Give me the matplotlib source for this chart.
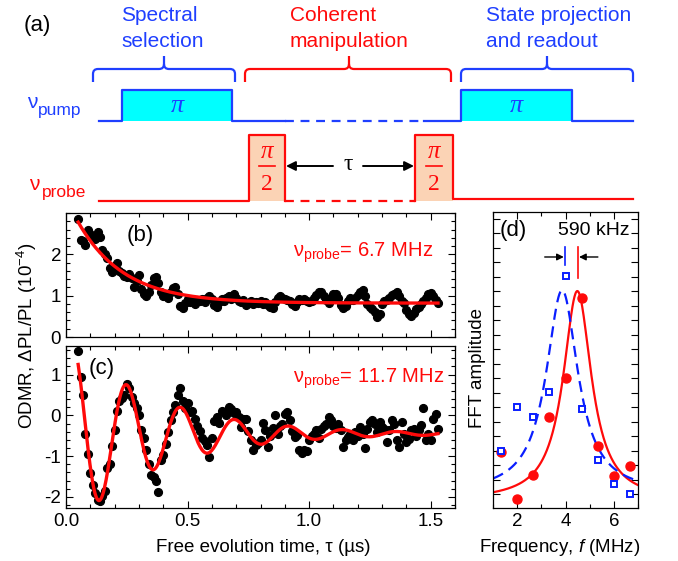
import numpy as np
import matplotlib.pyplot as plt
from matplotlib.path import Path
from matplotlib.patches import PathPatch, Rectangle

plt.rcParams['font.family'] = ['Liberation Sans', 'DejaVu Sans']
plt.rcParams['mathtext.fontset'] = 'custom'
plt.rcParams['mathtext.rm'] = 'Liberation Sans'
plt.rcParams['mathtext.it'] = 'Liberation Sans:italic'
plt.rcParams['mathtext.sf'] = 'Liberation Sans'
plt.rcParams['axes.unicode_minus'] = False

RED = '#ff0a0a'
BLUE = '#1f3fff'
SERIF = ['Liberation Serif', 'DejaVu Serif']

# ---- data ----
# sampling of the free evolution time (us)
tauStart, tauStep = 0.05, 0.01

# (b) nu_probe = 6.7 MHz
odmrB = [2.85, 2.35, 2.33, 2.22, 2.6, 2.5, 2.45, 2.38, 2.55, 2.42,
         2.1, 2.02, 1.9, 1.68, 1.58, 1.72, 1.78, 1.6, 1.55, 1.48,
         1.45, 1.52, 1.42, 1.2, 1.35, 1.5, 1.15, 1.05, 0.98, 1.08,
         1.25, 1.42, 1.45, 1.3, 1.08, 0.98, 1.02, 0.95, 1.1, 1.18,
         1.2, 1.05, 0.75, 0.7, 0.82, 0.92, 0.85, 0.88, 0.8, 0.9,
         0.88, 0.92, 0.85, 0.95, 1.0, 0.92, 0.78, 0.73, 0.85, 0.92,
         0.88, 0.95, 1.0, 0.92, 1.03, 0.95, 0.88, 0.85, 0.9, 0.78,
         0.82, 0.88, 0.8, 0.85, 0.82, 0.88, 0.8, 0.85, 0.78, 0.72,
         0.7, 0.85, 0.95, 1.0, 0.95, 0.92, 0.9, 0.88, 0.8, 0.74,
         0.85, 0.93, 0.9, 0.92, 0.88, 0.84, 0.86, 0.95, 1.02, 1.08,
         1.1, 0.98, 0.9, 0.82, 0.95, 1.04, 1.05, 0.95, 0.78, 0.7,
         0.75, 0.88, 0.95, 0.9, 0.95, 1.02, 1.08, 1.13, 1.0, 0.8,
         0.72, 0.68, 0.6, 0.48, 0.55, 0.8, 0.88, 0.9, 0.95, 1.02,
         1.05, 1.1, 0.98, 0.88, 0.82, 0.65, 0.55, 0.5, 0.58, 0.68,
         0.72, 0.8, 0.88, 0.95, 1.05, 1.07, 1.0, 0.9, 0.82]

# (c) nu_probe = 11.7 MHz
odmrC = [1.57, 0.95, 0.5, -0.45, -0.95, -1.42, -1.7, -1.9, -2.08, -2.1,
         -1.98, -1.85, -1.3, -1.2, -0.75, -0.35, 0.1, 0.35, 0.42, 0.5,
         0.78, 0.68, 0.45, 0.3, 0.18, 0.0, -0.35, -0.55, -0.85, -1.2,
         -1.45, -1.5, -1.6, -1.88, -1.1, -0.98, -0.7, -0.4, -0.12, 0.08,
         0.25, 0.5, 0.68, 0.35, 0.18, 0.3, 0.08, 0.1, -0.08, -0.25,
         -0.38, -0.55, -0.62, -0.72, -1.02, -0.55, -0.15, -0.05, -0.18, 0.1,
         0.08, 0.0, 0.2, 0.15, 0.05, 0.08, -0.05, -0.28, -0.08, -0.1,
         -0.38, -0.6, -0.85, -0.72, -0.68, -0.6, -0.18, -0.35, -0.78, -0.5,
         -0.3, 0.0, -0.45, -0.25, -0.22, 0.04, 0.08, -0.12, -0.38, -0.52,
         -0.48, -0.85, -0.92, -0.85, -0.88, -0.6, -0.5, -0.45, -0.37, -0.55,
         -0.33, -0.25, -0.2, -0.04, -0.12, -0.26, -0.3, -0.2, -0.37, -0.77,
         -0.6, -0.52, -0.45, -0.6, -0.4, -0.5, -0.28, -0.45, -0.8, -0.33,
         -0.16, -0.12, -0.22, -0.4, -0.16, -0.28, -0.33, -0.65, -0.37, -0.12,
         -0.2, -0.6, -0.77, -0.16, -0.45, -0.65, -0.57, -0.37, -0.33, -0.5,
         -0.37, -0.24, 0.18, -0.6, -0.45, -0.6, -0.08, 0.04, -0.33]

# fit parameters
fitB = dict(offset=0.82, amp=1.96, decay=0.19)
fitC = dict(offset=-0.45, amp=2.4, t2=0.36, freq=4.5, t0=0.028)

# (d) FFT amplitudes (arb. units)
fftFreq = [1.33, 2.0, 2.67, 3.33, 4.0, 4.67, 5.33, 6.0, 6.67]
fftBlue = [0.193, 0.340, 0.306, 0.393, 0.783, 0.334, 0.161, 0.081, 0.047]
fftRed = [0.189, 0.029, 0.112, 0.306, 0.438, 0.708, 0.211, 0.107, 0.143]
lorBlue = dict(f0=3.86, width=0.80, amp=0.686, base=0.05)
lorRed = dict(f0=4.49, width=0.71, amp=0.708, base=0.025)
peakMarks = [3.96, 4.53]

# (a) pulse sequence timing (schematic units)
seqStart, seqEnd = 99, 633
pumpPulses = [(122, 232), (461, 572)]
pumpDashed = (285, 424)
probePulses = [(249, 285), (415, 453)]
stageBraces = [(93, 235, 164, BLUE), (245, 451, 349, RED), (461, 633, 547, BLUE)]
stageLabels = [(121, 'Spectral', 'selection', BLUE),
               (290, 'Coherent', 'manipulation', RED),
               (486, 'State projection', 'and readout', BLUE)]


def lorentz(f, p):
    return p['base'] + p['amp'] / (1 + ((f - p['f0']) / p['width']) ** 2)


def brace(ax, x0, x1, xc, color):
    yEnd, yLine, yTip, r = 82, 69, 56, 5
    verts = [(x0, yEnd), (x0, yLine + r), (x0, yLine), (x0 + r, yLine),
             (xc - r, yLine), (xc, yLine), (xc, yLine - r), (xc, yTip),
             (xc, yLine - r), (xc, yLine), (xc + r, yLine),
             (x1 - r, yLine), (x1, yLine), (x1, yLine + r), (x1, yEnd)]
    codes = [Path.MOVETO, Path.LINETO, Path.CURVE3, Path.CURVE3,
             Path.LINETO, Path.CURVE3, Path.CURVE3, Path.LINETO,
             Path.MOVETO, Path.CURVE3, Path.CURVE3,
             Path.LINETO, Path.CURVE3, Path.CURVE3, Path.LINETO]
    ax.add_patch(PathPatch(Path(verts, codes), fc='none', ec=color, lw=1.6))


def styleAxes(ax):
    ax.tick_params(which='both', direction='in', top=True, right=True,
                   labelsize=13.5, width=0.8)
    ax.tick_params(which='major', length=5)
    ax.tick_params(which='minor', length=3)
    for s in ax.spines.values():
        s.set_linewidth(0.9)


fig = plt.figure(figsize=(6.78, 5.61), dpi=100)
W, H = 678, 561


def box(l, t, r, b):
    return [l / W, 1 - b / H, (r - l) / W, (b - t) / H]


# ---- (a) pulse sequence ----
axA = fig.add_axes([0, 1 - 210 / H, 1, 210 / H])
axA.set_xlim(0, W)
axA.set_ylim(210, 0)
axA.axis('off')

axA.text(24, 26, '(a)', fontsize=16, va='center', ha='left')
for x, line1, line2, col in stageLabels:
    axA.text(x, 21, line1, color=col, fontsize=15, va='baseline', ha='left')
    axA.text(x, 47, line2, color=col, fontsize=15, va='baseline', ha='left')
for x0, x1, xc, col in stageBraces:
    brace(axA, x0, x1, xc, col)

pumpY, pumpTop = 121, 90
for x0, x1 in pumpPulses:
    axA.add_patch(Rectangle((x0, pumpTop), x1 - x0, pumpY - pumpTop,
                            fc='#00ffff', ec='none'))
    axA.text((x0 + x1) / 2, 106, 'π', color=BLUE, fontsize=19,
             family=SERIF, style='italic', ha='center', va='center')
(p1a, p1b), (p2a, p2b) = pumpPulses
axA.plot([seqStart, p1a, p1a, p1b, p1b, pumpDashed[0]],
         [pumpY, pumpY, pumpTop, pumpTop, pumpY, pumpY], color=BLUE, lw=1.6)
axA.plot(pumpDashed, [pumpY, pumpY], color=BLUE, lw=1.6, ls=(0, (4, 3)))
axA.plot([pumpDashed[1], p2a, p2a, p2b, p2b, seqEnd],
         [pumpY, pumpY, pumpTop, pumpTop, pumpY, pumpY], color=BLUE, lw=1.6)
axA.text(27, 108, 'ν', color=BLUE, fontsize=15, va='baseline', ha='left')
axA.text(38, 115, 'pump', color=BLUE, fontsize=12.5, va='baseline', ha='left')

probeY, probeTop = 201, 135
for x0, x1 in probePulses:
    axA.add_patch(Rectangle((x0, probeTop), x1 - x0, probeY - probeTop,
                            fc='#fbd3b5', ec='none'))
    xm = (x0 + x1) / 2
    axA.text(xm, 152, 'π', color=RED, fontsize=18, family=SERIF,
             style='italic', ha='center', va='center')
    axA.plot([xm - 8, xm + 8], [166, 166], color=RED, lw=1.2)
    axA.text(xm, 184, '2', color=RED, fontsize=17, family=SERIF,
             ha='center', va='center')
(q1a, q1b), (q2a, q2b) = probePulses
axA.plot([seqStart, q1a, q1a, q1b, q1b], [probeY, probeY, probeTop, probeTop, probeY],
         color=RED, lw=1.6)
axA.plot([q1b, q2a], [probeY, probeY], color=RED, lw=1.6, ls=(0, (4, 3)))
axA.plot([q2a, q2a, q2b, q2b, seqEnd], [probeY, probeTop, probeTop, probeY - 1.5, probeY - 1.5],
         color=RED, lw=1.6)
axA.text(29, 190, 'ν', color=RED, fontsize=15, va='baseline', ha='left')
axA.text(42, 197, 'probe', color=RED, fontsize=12.5, va='baseline', ha='left')

arrowKw = dict(arrowstyle='-|>', color='black', lw=1.4, mutation_scale=14,
               shrinkA=0, shrinkB=0)
axA.annotate('', xy=(q1b + 1, 166), xytext=(333, 166), arrowprops=arrowKw)
axA.annotate('', xy=(q2a - 1, 166), xytext=(363, 166), arrowprops=arrowKw)
axA.text(348, 164, 'τ', fontsize=17, family=SERIF, ha='center', va='center')

# ---- (b) ----
tauB = tauStart + tauStep * np.arange(len(odmrB))
tauC = tauStart + tauStep * np.arange(len(odmrC))
tFit = np.linspace(tauStart, tauB[-1], 400)

axB = fig.add_axes(box(66, 213, 455, 337))
axB.plot(tauB, odmrB, 'o', color='black', ms=5.6, zorder=2)
yB = fitB['offset'] + fitB['amp'] * np.exp(-(tFit - tauStart) / fitB['decay'])
axB.plot(tFit, yB, color=RED, lw=2.4, zorder=3)
axB.set_xlim(0, 1.6)
axB.set_ylim(0, 3.0)
axB.set_xticks([0, 0.5, 1.0, 1.5])
axB.set_xticks(np.arange(0, 1.61, 0.1), minor=True)
axB.set_yticks([0, 1, 2])
axB.set_yticks(np.arange(0, 3.01, 0.2), minor=True)
axB.set_xticklabels([])
styleAxes(axB)
axB.text(0.157, 0.815, '(b)', transform=axB.transAxes, fontsize=16, va='center')
axB.text(0.584, 0.645, 'ν$_{\\mathrm{probe}}$= 6.7 MHz', transform=axB.transAxes,
         color=RED, fontsize=14.5, va='baseline', ha='left')

# ---- (c) ----
axC = fig.add_axes(box(66, 346, 455, 508))
axC.plot(tauC, odmrC, 'o', color='black', ms=5.6, zorder=2)
yC = fitC['offset'] + fitC['amp'] * np.exp(-tFit / fitC['t2']) * \
    np.cos(2 * np.pi * fitC['freq'] * (tFit - fitC['t0']))
axC.plot(tFit, yC, color=RED, lw=2.4, zorder=3)
axC.set_xlim(0, 1.6)
axC.set_ylim(-2.27, 1.7)
axC.set_xticks([0, 0.5, 1.0, 1.5])
axC.set_xticklabels(['0.0', '0.5', '1.0', '1.5'])
axC.set_xticks(np.arange(0, 1.61, 0.1), minor=True)
axC.set_yticks([-2, -1, 0, 1])
axC.set_yticks(np.arange(-2.2, 1.71, 0.2), minor=True)
styleAxes(axC)
axC.text(0.057, 0.864, '(c)', transform=axC.transAxes, fontsize=16, va='center')
axC.text(0.584, 0.772, 'ν$_{\\mathrm{probe}}$= 11.7 MHz', transform=axC.transAxes,
         color=RED, fontsize=14.5, va='baseline', ha='left')

fig.text(27 / W, 1 - 336 / H, 'ODMR, ΔPL/PL (10$^{-4}$)', rotation=90,
         fontsize=13.5, ha='center', va='center')
fig.text(263 / W, 1 - 547 / H, 'Free evolution time, τ (µs)', fontsize=13.5,
         ha='center', va='center')

# ---- (d) ----
axD = fig.add_axes(box(493, 212, 638, 508))
fGrid = np.linspace(1, 7, 300)
axD.plot(fGrid, lorentz(fGrid, lorRed), color=RED, lw=1.6, zorder=2)
axD.plot(fGrid, lorentz(fGrid, lorBlue), color='#0a1eff', lw=1.6,
         ls=(0, (5, 3)), zorder=2)
axD.plot(fftFreq, fftRed, 'o', color=RED, ms=6.5, zorder=3)
axD.plot(fftFreq, fftBlue, 's', mfc='white', mec='#0a1eff', mew=1.4,
         ms=5, ls='none', zorder=4)
axD.set_xlim(1, 7)
axD.set_ylim(0, 1)
axD.set_xticks([2, 4, 6])
axD.set_xticks(np.arange(1, 7.1, 1), minor=True)
axD.set_yticks(np.arange(0.047, 1.0, 0.049))
axD.set_yticklabels([])
styleAxes(axD)
axD.plot([peakMarks[0]] * 2, [0.82, 0.882], color='#0a1eff', lw=1.2)
axD.plot([peakMarks[1]] * 2, [0.778, 0.882], color=RED, lw=1.2)
arrowD = dict(arrowstyle='-|>', color='black', lw=1.0, mutation_scale=10,
              shrinkA=0, shrinkB=0)
axD.annotate('', xy=(peakMarks[0] - 0.03, 0.848), xytext=(3.14, 0.848), arrowprops=arrowD)
axD.annotate('', xy=(peakMarks[1] + 0.03, 0.848), xytext=(5.34, 0.848), arrowprops=arrowD)
axD.text(0.048, 0.939, '(d)', transform=axD.transAxes, fontsize=16, va='center')
axD.text(0.448, 0.939, '590 kHz', transform=axD.transAxes, fontsize=14, va='center')

fig.text(477 / W, 1 - 368 / H, 'FFT amplitude', rotation=90, fontsize=13.5,
         ha='center', va='center')
fig.text(560 / W, 1 - 547 / H, 'Frequency, $\\mathit{f}$ (MHz)', fontsize=13.5,
         ha='center', va='center')

fig.savefig('out.png', dpi=100)
